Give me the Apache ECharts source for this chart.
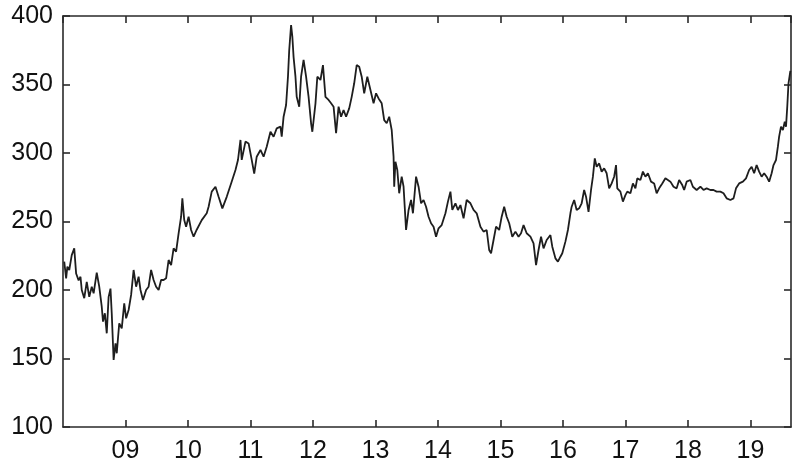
<!DOCTYPE html>
<html>
<head>
<meta charset="utf-8">
<script src="https://cdn.jsdelivr.net/npm/echarts@6/dist/echarts.min.js"></script>
<style>html,body{margin:0;padding:0;background:#fff;}#c{width:793px;height:472px;}</style>
</head>
<body>
<div id="c"></div>
<script>
// time as fractional year
const dates = [
2008.02,2008.05,2008.07,2008.10,2008.14,2008.18,2008.21,2008.25,2008.28,2008.30,2008.34,2008.38,2008.42,2008.46,2008.49,
2008.54,2008.58,2008.62,2008.64,2008.67,2008.70,2008.73,2008.76,2008.78,2008.81,2008.84,2008.86,2008.90,2008.94,2008.98,
2009.01,2009.05,2009.09,2009.13,2009.17,2009.21,2009.24,2009.28,2009.33,2009.37,2009.41,2009.45,2009.49,2009.53,2009.57,
2009.61,2009.65,2009.69,2009.73,2009.77,2009.81,2009.85,2009.89,2009.91,2009.94,2009.97,2010.01,2010.05,2010.09,2010.14,
2010.22,2010.30,2010.33,2010.38,2010.44,2010.49,2010.55,2010.62,2010.69,2010.76,2010.80,2010.84,2010.86,2010.92,2010.97,
2011.02,2011.06,2011.10,2011.16,2011.21,2011.26,2011.32,2011.37,2011.42,2011.48,2011.50,2011.53,2011.57,2011.60,2011.62,
2011.65,2011.67,2011.69,2011.72,2011.74,2011.78,2011.81,2011.85,2011.89,2011.93,2011.97,2011.99,2012.04,2012.07,2012.12,
2012.16,2012.20,2012.25,2012.29,2012.33,2012.37,2012.41,2012.45,2012.49,2012.53,2012.58,2012.62,2012.66,2012.70,2012.74,
2012.78,2012.82,2012.87,2012.92,2012.97,2013.01,2013.05,2013.10,2013.14,2013.18,2013.22,2013.26,2013.29,2013.30,2013.32,
2013.35,2013.38,2013.42,2013.45,2013.49,2013.53,2013.57,2013.60,2013.65,2013.69,2013.73,2013.77,2013.81,2013.85,2013.89,
2013.93,2013.97,2014.01,2014.06,2014.12,2014.16,2014.20,2014.23,2014.28,2014.32,2014.36,2014.41,2014.46,2014.52,2014.57,
2014.62,2014.68,2014.73,2014.78,2014.82,2014.85,2014.89,2014.93,2014.98,2015.02,2015.06,2015.10,2015.14,2015.19,2015.24,
2015.29,2015.33,2015.37,2015.42,2015.48,2015.53,2015.57,2015.61,2015.65,2015.69,2015.74,2015.80,2015.83,2015.88,2015.92,
2015.96,2015.99,2016.04,2016.08,2016.12,2016.14,2016.18,2016.22,2016.26,2016.30,2016.34,2016.37,2016.41,2016.45,2016.48,
2016.51,2016.54,2016.58,2016.62,2016.66,2016.70,2016.74,2016.78,2016.82,2016.85,2016.87,2016.92,2016.96,2017.00,2017.03,
2017.08,2017.12,2017.16,2017.19,2017.24,2017.28,2017.32,2017.36,2017.41,2017.46,2017.50,2017.54,2017.59,2017.64,2017.67,
2017.72,2017.77,2017.82,2017.86,2017.91,2017.94,2017.98,2018.04,2018.08,2018.14,2018.20,2018.25,2018.30,2018.36,2018.41,
2018.46,2018.52,2018.57,2018.62,2018.68,2018.73,2018.77,2018.82,2018.88,2018.93,2018.98,2019.02,2019.06,2019.10,2019.14,
2019.18,2019.22,2019.26,2019.30,2019.34,2019.37,2019.41,2019.44,2019.46,2019.49,2019.52,2019.55,2019.57,2019.59,2019.61,
2019.64
];
const values = [
220.7,208.5,217,214.6,225.5,230.4,212,207,209.7,200,194,206,195,202.4,197.6,
212.6,202.4,187.8,176.9,183,168.4,195,201,183,148.9,161,153.8,175.7,172,190.3,
179.3,185.4,196.4,214.6,202.4,209.7,200,192.7,200,202.4,214.6,207.3,202.4,200,207.3,
207.3,208.5,221.9,218.2,230.4,228,241.4,253.5,266.9,251.1,246.2,253.5,243.8,238.9,244,
251,256,260.8,271.8,275.4,268,259.6,268,277.8,287.6,294.9,309.5,295,308.3,307,
295,285,297.3,302.2,297.3,304.6,315.5,311.9,318,319.2,312,326.5,335,355.7,375,
393.4,385,370,355.7,341,333.8,355.7,367.9,355.7,341,321.7,315.5,336,355.7,353.3,
364.2,341,338.7,336.3,333.8,314.4,333.8,326.5,331.4,326.5,332.6,341,350.9,364.2,363,
355.7,343.6,355.7,346,336.3,343.6,339.8,336.3,324,321.7,326.5,316.8,297.3,275.4,293.6,
287.6,270.6,282.7,275.4,243.8,258.4,265.7,256,282.7,275.4,263.3,265.7,260.8,253.5,248.7,
246.2,238.9,245,247.4,256,264.5,271.8,258.4,263.3,258.4,262,252.3,265.7,263.3,258.4,
256,246.2,242.6,243.8,229.2,226.8,236.5,246.2,243.8,253.5,260.8,253.5,248.7,238.9,242.6,
238.9,241.4,247.4,241.4,238.9,234.1,218.2,229.2,238.9,230.4,236.5,240.1,231.6,223.1,220.7,
224.3,226.8,235.3,243.8,256,260.8,265.7,258.4,259.6,263.3,273,268.1,257.1,273,282.7,
296.1,290,292.4,286.4,288.8,285.2,274.2,277.8,282.7,291.2,274.2,271.8,264.5,269.3,271.8,
270.6,277.8,274.2,281.5,280.3,286.4,282.7,285.2,279.1,277.8,270.6,274.2,277.8,281.5,282.7,
279.1,275.4,274.2,280.3,276.6,273,279.1,280.3,275.4,273,275.4,273,274.2,273,273,
271.8,271.8,270.6,266.9,265.7,266.9,274.2,277.8,279.1,281.5,287.6,290,285.2,291.2,286.4,
282.7,285.2,282.7,279.1,285.2,291.2,294.9,304.6,311.9,319.2,316.8,322.8,319.2,333.8,350.9,
360
];
const yearTicks = ['09','10','11','12','13','14','15','16','17','18','19'];
const yTicks = [100,150,200,250,300,350,400];

const chart = echarts.init(document.getElementById('c'), null, {renderer:'canvas'});
const lineC = '#2a2a2a';
const axisCommon = {
  axisLine:{show:true, onZero:false, lineStyle:{color:lineC, width:1.6}},
  axisTick:{show:true, inside:true, length:7, lineStyle:{color:lineC, width:1.6}},
  splitLine:{show:false}
};
const fontF = 'Liberation Sans, Arial, sans-serif';
chart.setOption({
  animation:false,
  backgroundColor:'#fff',
  grid:{left:63, top:16, width:728, height:411, containLabel:false},
  xAxis:[
    Object.assign({type:'value', min:2008, max:2019.65, interval:1, position:'bottom',
      axisLabel:{show:true, margin:12, fontSize:25, color:'#111', fontFamily:fontF,
        showMinLabel:false, showMaxLabel:false,
        formatter:function(v){ const i = Math.round(v) - 2009; return (Math.abs(v-Math.round(v))<1e-6 && i>=0 && i<yearTicks.length) ? yearTicks[i] : ''; }}
    }, axisCommon),
    Object.assign({type:'value', min:2008, max:2019.65, interval:1, position:'top',
      axisLabel:{show:false}}, axisCommon)
  ],
  yAxis:[
    Object.assign({type:'value', min:yTicks[0], max:yTicks[yTicks.length-1], interval:50, position:'left',
      axisLabel:{show:true, margin:10, fontSize:25, color:'#111', fontFamily:fontF}}, axisCommon),
    Object.assign({type:'value', min:yTicks[0], max:yTicks[yTicks.length-1], interval:50, position:'right',
      axisLabel:{show:false}}, axisCommon)
  ],
  series:[{
    type:'line',
    xAxisIndex:0, yAxisIndex:0,
    data: dates.map((d,i)=>[d, values[i]]),
    showSymbol:false,
    symbol:'none',
    lineStyle:{color:'#1e1e1e', width:1.8},
    silent:true
  }]
});
</script>
</body>
</html>
